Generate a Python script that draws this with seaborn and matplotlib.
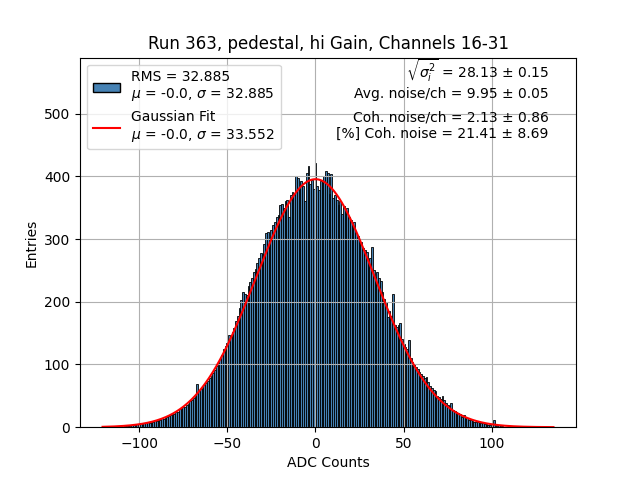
import numpy as np
import pandas as pd
import matplotlib
matplotlib.use("Agg")
import matplotlib.pyplot as plt
import seaborn as sns
from matplotlib.patches import Patch
from matplotlib.lines import Line2D

# bin centres (1 ADC count wide) and entries
bin_lo, bin_hi = -120, 134
counts = [
    # -120 .. -101
    0, 0, 0, 1, 0, 0, 1, 0, 1, 1, 2, 1, 2, 2, 3, 2, 3, 4, 3, 5,
    # -100 .. -81
    4, 6, 5, 7, 6, 8, 7, 9, 8, 11, 10, 12, 11, 14, 13, 16, 17, 18, 19, 22,
    # -80 .. -61
    21, 25, 24, 29, 30, 33, 32, 36, 37, 41, 44, 46, 50, 69, 58, 61, 63, 67, 70, 74,
    # -60 .. -41
    78, 82, 86, 92, 97, 103, 108, 115, 124, 130, 134, 147, 145, 152, 158, 170, 178, 190, 203, 216,
    # -40 .. -21
    212, 211, 225, 232, 238, 247, 252, 262, 270, 278, 276, 292, 310, 311, 300, 314, 322, 328, 335, 338,
    # -20 .. -1
    355, 356, 350, 360, 362, 335, 370, 375, 372, 400, 398, 380, 392, 385, 360, 405, 416, 388, 395, 380,
    # 0 .. 19
    421, 385, 378, 392, 395, 400, 409, 405, 372, 403, 365, 370, 362, 355, 360, 340, 352, 348, 350, 335,
    # 20 .. 39
    330, 325, 328, 310, 305, 300, 296, 285, 282, 280, 262, 270, 288, 250, 240, 248, 238, 233, 215, 205,
    # 40 .. 59
    200, 176, 185, 178, 212, 163, 160, 163, 166, 140, 132, 128, 125, 139, 110, 104, 100, 96, 93, 88,
    # 60 .. 79
    85, 82, 78, 80, 72, 66, 62, 60, 58, 50, 48, 45, 50, 43, 38, 36, 34, 38, 28, 26,
    # 80 .. 99
    25, 23, 21, 16, 19, 15, 14, 11, 12, 10, 9, 9, 8, 7, 7, 6, 5, 5, 4, 4,
    # 100 .. 119
    3, 11, 3, 2, 3, 2, 2, 1, 1, 1, 0, 1, 0, 0, 0, 0, 0, 0, 0, 0,
    # 120 .. 134
    0, 0, 0, 0, 0, 0, 0, 0, 0, 0, 0, 0, 0, 0, 0,
]

rms = 32.885
mean = -0.0
fit_mu, fit_sigma, fit_amp = -0.0, 33.552, 395.5

title = "Run 363, pedestal, hi Gain, Channels 16-31"
noise_lines = [
    r"$\sqrt{\sigma_i^2}$ = 28.13 ± 0.15",
    "Avg. noise/ch = 9.95 ± 0.05",
    "Coh. noise/ch = 2.13 ± 0.86",
    "[%] Coh. noise = 21.41 ± 8.69",
]
noise_y = [0.943, 0.891, 0.828, 0.784]  # baselines, axes fraction

df = pd.DataFrame({"adc": np.arange(bin_lo, bin_hi + 1), "entries": counts})

fig, ax = plt.subplots(figsize=(6.4, 4.8), dpi=100)

sns.histplot(data=df, x="adc", weights="entries", binwidth=1,
             binrange=(bin_lo - 0.5, bin_hi + 0.5), color="steelblue",
             edgecolor="black", linewidth=0.6, alpha=1, ax=ax)

# gaussian fit curve
xfit = np.linspace(-120.7, 134.9, 500)
yfit = fit_amp * np.exp(-0.5 * ((xfit - fit_mu) / fit_sigma) ** 2)
sns.lineplot(x=xfit, y=yfit, color="red", linewidth=1.5, ax=ax)

ax.set_ylim(0, 1.4 * max(counts))
ax.grid(True)
ax.set_title(title)
ax.set_xlabel("ADC Counts")
ax.set_ylabel("Entries")

handles = [
    Patch(facecolor="steelblue", edgecolor="black",
          label=f"RMS = {rms:.3f}\n$\\mu$ = {mean}, $\\sigma$ = {rms:.3f}"),
    Line2D([], [], color="red",
           label=f"Gaussian Fit\n$\\mu$ = {fit_mu}, $\\sigma$ = {fit_sigma:.3f}"),
]
ax.legend(handles=handles, loc="upper left")

for line, y in zip(noise_lines, noise_y):
    ax.text(0.945, y, line, transform=ax.transAxes, ha="right", va="baseline")

fig.savefig("out.png", dpi=100)
